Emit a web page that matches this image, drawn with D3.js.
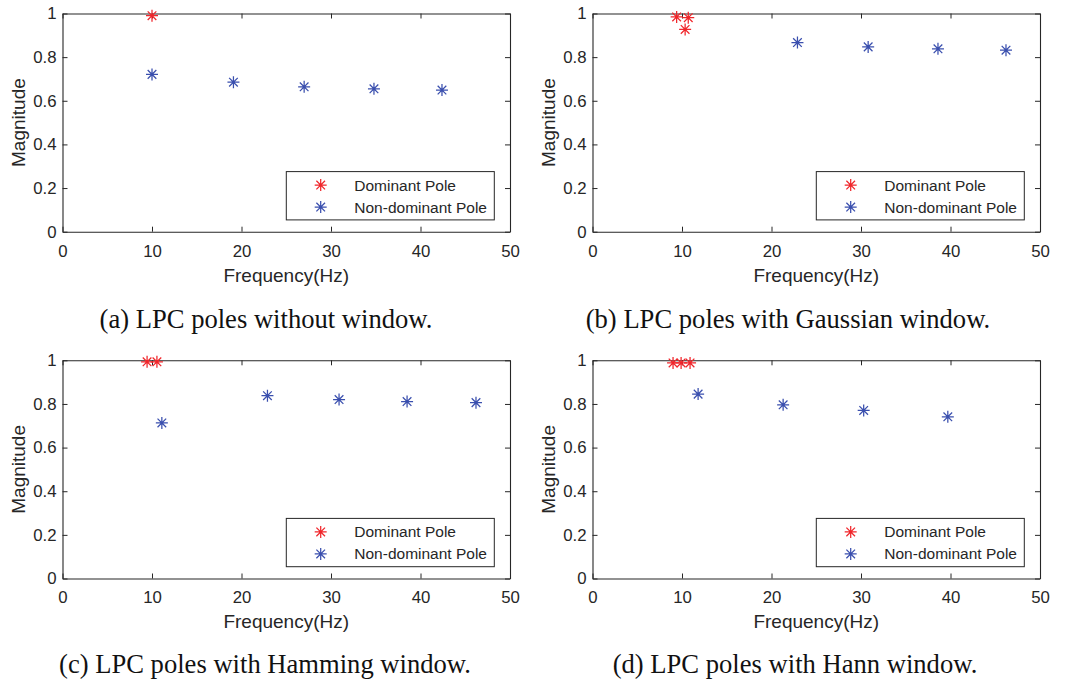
<!DOCTYPE html>
<html>
<head>
<meta charset="utf-8">
<script src="https://cdn.jsdelivr.net/npm/d3@7"></script>
<style>
  html, body { margin: 0; padding: 0; background: #fff; }
  svg { display: block; }
</style>
</head>
<body>
<svg id="chart" width="1069" height="679"></svg>
<script>
// Shared axis ticks
const xTicks = [0, 10, 20, 30, 40, 50];
const yTicks = [0, 0.2, 0.4, 0.6, 0.8, 1];
const yTickLabels = ["0", "0.2", "0.4", "0.6", "0.8", "1"];
const xLabel = "Frequency(Hz)";
const yLabel = "Magnitude";
const seriesNames = ["Dominant Pole", "Non-dominant Pole"];

// (a) no window
const domFreqA = [10.0];
const domMagA = [0.99];
const nonFreqA = [10.0, 19.1, 27.0, 34.8, 42.4];
const nonMagA = [0.721, 0.685, 0.664, 0.655, 0.649];

// (b) Gaussian window
const domFreqB = [9.4, 10.7, 10.35];
const domMagB = [0.984, 0.981, 0.927];
const nonFreqB = [22.9, 30.8, 38.6, 46.2];
const nonMagB = [0.867, 0.847, 0.838, 0.832];

// (c) Hamming window
const domFreqC = [9.45, 10.55];
const domMagC = [0.993, 0.993];
const nonFreqC = [11.1, 22.9, 30.9, 38.5, 46.2];
const nonMagC = [0.713, 0.838, 0.820, 0.811, 0.806];

// (d) Hann window
const domFreqD = [9.0, 9.9, 10.9];
const domMagD = [0.988, 0.988, 0.988];
const nonFreqD = [11.8, 21.3, 30.3, 39.7];
const nonMagD = [0.845, 0.796, 0.770, 0.741];

const captions = [
  "(a) LPC poles without window.",
  "(b) LPC poles with Gaussian window.",
  "(c) LPC poles with Hamming window.",
  "(d) LPC poles with Hann window."
];

// Layout of the four subplots
const plotW = 447.5, plotH = 218.2;
const panels = [
  { left: 62.5,  top: 13.5,  capX: 266, capY: 328,   dom: [domFreqA, domMagA], non: [nonFreqA, nonMagA] },
  { left: 592.5, top: 13.5,  capX: 788, capY: 328,   dom: [domFreqB, domMagB], non: [nonFreqB, nonMagB] },
  { left: 62.5,  top: 360.3, capX: 265, capY: 672.5, dom: [domFreqC, domMagC], non: [nonFreqC, nonMagC] },
  { left: 592.5, top: 360.3, capX: 795, capY: 672.5, dom: [domFreqD, domMagD], non: [nonFreqD, nonMagD] }
];

const axisColor = "#262626";
const redColor = "#f0262b";
const blueColor = "#3a4fae";
const sansFont = "'Liberation Sans', Arial, Helvetica, sans-serif";
const serifFont = "'Liberation Serif', 'Times New Roman', serif";

// Eight-armed asterisk marker centred on the origin
function asterisk(r) {
  const d = r * 0.72;
  return `M${-r},0H${r}M0,${-r}V${r}` +
         `M${-d},${-d}L${d},${d}M${-d},${d}L${d},${-d}`;
}

const svg = d3.select("#chart");

panels.forEach((p, i) => {
  const x = d3.scaleLinear().domain([0, 50]).range([0, plotW]);
  const y = d3.scaleLinear().domain([0, 1]).range([plotH, 0]);
  const g = svg.append("g").attr("transform", `translate(${p.left},${p.top})`);

  // Axes with inward ticks on all four sides
  const bottom = g.append("g").attr("transform", `translate(0,${plotH})`)
    .call(d3.axisBottom(x).tickValues(xTicks).tickFormat(d3.format("d"))
      .tickSizeInner(-5).tickSizeOuter(0).tickPadding(13));
  const top = g.append("g")
    .call(d3.axisTop(x).tickValues(xTicks).tickFormat("")
      .tickSizeInner(-5).tickSizeOuter(0));
  const left = g.append("g")
    .call(d3.axisLeft(y).tickValues(yTicks).tickFormat((d, k) => yTickLabels[k])
      .tickSizeInner(-5).tickSizeOuter(0).tickPadding(6));
  const right = g.append("g").attr("transform", `translate(${plotW},0)`)
    .call(d3.axisRight(y).tickValues(yTicks).tickFormat("")
      .tickSizeInner(-5).tickSizeOuter(0));

  [bottom, top, left, right].forEach(a => {
    a.select(".domain").attr("stroke", axisColor).attr("stroke-width", 1.1);
    a.selectAll(".tick line").attr("stroke", axisColor).attr("stroke-width", 1);
    a.selectAll(".tick text")
      .attr("fill", axisColor)
      .style("font-family", sansFont)
      .style("font-size", "16.8px");
  });

  // Axis titles
  g.append("text")
    .attr("x", plotW / 2).attr("y", plotH + 50)
    .attr("text-anchor", "middle")
    .attr("fill", axisColor)
    .style("font-family", sansFont).style("font-size", "19px")
    .text(xLabel);
  g.append("text")
    .attr("transform", `translate(-38,${plotH / 2}) rotate(-90)`)
    .attr("text-anchor", "middle")
    .attr("fill", axisColor)
    .style("font-family", sansFont).style("font-size", "19px")
    .text(yLabel);

  // Pole markers
  const marker = asterisk(6);
  const drawSeries = (freqs, mags, color) => {
    g.append("g").selectAll("path")
      .data(freqs.map((f, k) => [f, mags[k]]))
      .join("path")
      .attr("transform", d => `translate(${x(d[0])},${y(d[1])})`)
      .attr("d", marker)
      .attr("fill", "none")
      .attr("stroke", color)
      .attr("stroke-width", 1.25);
  };
  drawSeries(p.non[0], p.non[1], blueColor);
  drawSeries(p.dom[0], p.dom[1], redColor);

  // Legend box in the lower right corner
  const legW = 208, legH = 48.3;
  const lg = g.append("g")
    .attr("transform", `translate(${plotW - 15.7 - legW},${plotH - 11.8 - legH})`);
  lg.append("rect")
    .attr("width", legW).attr("height", legH)
    .attr("fill", "#fff")
    .attr("stroke", axisColor).attr("stroke-width", 1);
  const rows = [[seriesNames[0], redColor, 13.5], [seriesNames[1], blueColor, 35.5]];
  rows.forEach(([name, color, ry]) => {
    lg.append("path")
      .attr("transform", `translate(34.4,${ry})`)
      .attr("d", marker)
      .attr("fill", "none").attr("stroke", color).attr("stroke-width", 1.25);
    lg.append("text")
      .attr("x", 68).attr("y", ry).attr("dy", "0.35em")
      .attr("fill", axisColor)
      .style("font-family", sansFont).style("font-size", "15.5px")
      .text(name);
  });

  // Subfigure caption
  svg.append("text")
    .attr("x", p.capX).attr("y", p.capY)
    .attr("text-anchor", "middle")
    .attr("fill", "#111")
    .style("font-family", serifFont).style("font-size", "26.6px")
    .text(captions[i]);
});
</script>
</body>
</html>
